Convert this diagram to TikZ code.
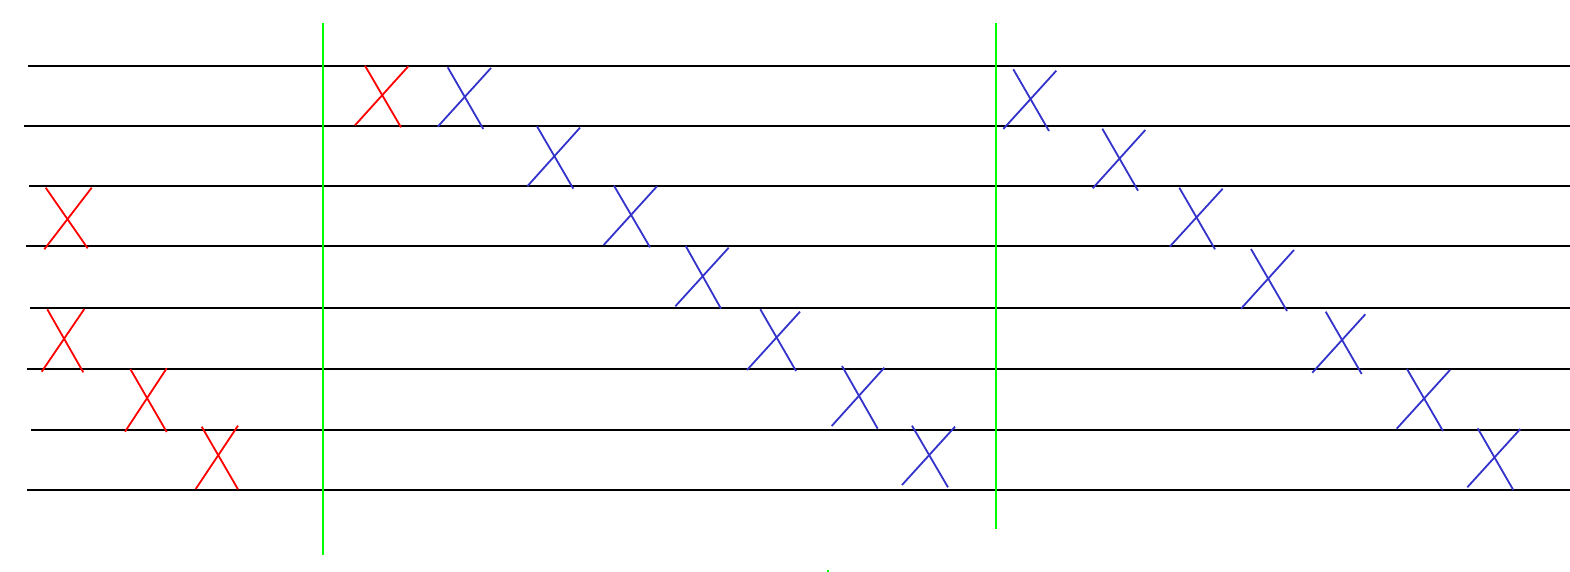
\documentclass[tikz,border=0pt]{standalone}
\definecolor{xred}{RGB}{255,0,0}
\definecolor{xblue}{RGB}{51,51,204}
\definecolor{xgreen}{RGB}{0,255,0}
\tikzset{
  wire/.style={black,line width=1pt},
  rx/.style={xred,line width=0.9pt},
  bx/.style={xblue,line width=0.9pt},
  gbar/.style={xgreen,line width=0.85pt}
}
\begin{document}
\begin{tikzpicture}[x=0.5pt,y=-0.5pt]
\useasboundingbox (0,0) rectangle (1570,572);
% horizontal wires
\foreach \xs/\yy in {28.3/66, 24.3/126, 29.3/186.5, 25.7/246.5, 30.3/308.3, 26.7/368.7, 31/430, 27.3/490}
  \draw[wire] (\xs,\yy) -- (1570,\yy);
% green bars
\draw[gbar] (323,23) -- (323,555);
\draw[gbar] (996,23) -- (996,529);
\draw[gbar] (828,569.5) -- (828,572);
% red crossings
\foreach \ax/\ay/\bx/\by/\cx/\cy/\dx/\dy in {
  45.7/187.7/87.7/248.3/91.7/187.7/44.3/249.3,
  47.3/309.3/83.3/372.3/84.3/309/41.7/371.7,
  130.3/369/166.7/432/166.7/368.3/125/431.7,
  201.7/426.7/238/489.3/238/425.7/195.7/489,
  365/65.7/401/127.3/408.3/66.3/355/125.3}
{
  \draw[rx] (\ax,\ay) -- (\bx,\by);
  \draw[rx] (\cx,\cy) -- (\dx,\dy);
}
% blue crossings
\foreach \ax/\ay/\bx/\by/\cx/\cy/\dx/\dy in {
  447.7/67.3/483.3/129/491/68/437.7/126.7,
  537/126.3/573.3/188.7/580/127.7/527.3/186.3,
  614/185.7/650/247.3/657/186.3/603.7/245,
  685.7/246/721/308.7/728.7/247.7/675.3/306.3,
  760.3/309.3/796/371/800/311.7/747/370,
  842/366/877.7/428.7/884.3/367.7/831.7/426,
  912/425.7/948/487.3/955/426.7/902/485,
  1013.3/69.3/1049/131/1056.3/70.7/1003.3/129,
  1102.3/128.7/1138/190.7/1145.3/130/1092.7/188.3,
  1179.3/187.7/1215/249.3/1222.7/188.7/1169.7/246.7,
  1251/249/1287/311/1294/250/1241/308.7,
  1325.7/311.7/1361.7/374/1365.3/314.3/1312.3/372.7,
  1407/369/1443/431/1450/370/1396.7/428.7,
  1477.7/428.3/1513.3/490/1520.3/429/1467.3/487.3}
{
  \draw[bx] (\ax,\ay) -- (\bx,\by);
  \draw[bx] (\cx,\cy) -- (\dx,\dy);
}
\end{tikzpicture}
\end{document}
